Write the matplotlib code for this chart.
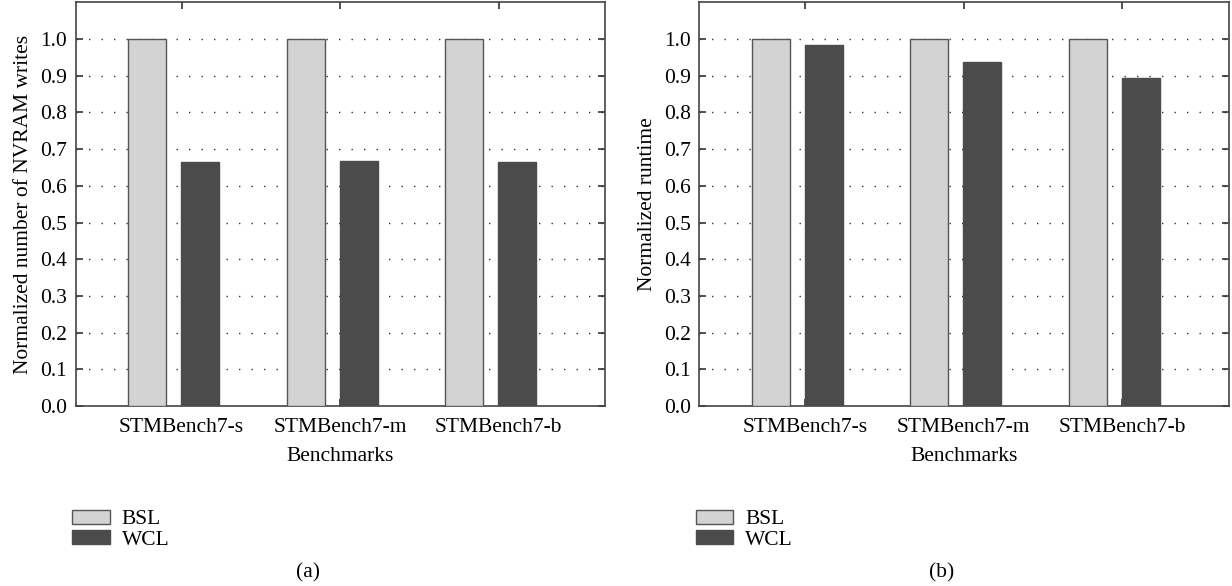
import matplotlib
matplotlib.use("Agg")
import matplotlib.pyplot as plt
import matplotlib.patches as mpatches
import numpy as np

# ── Data ──
BENCHMARKS = ["STMBench7-s", "STMBench7-m", "STMBench7-b"]
SERIES = ["BSL", "WCL"]
WRITES_BSL = [1.0, 1.0, 1.0]
WRITES_WCL = [0.666, 0.667, 0.666]
RUNTIME_BSL = [1.0, 1.0, 1.0]
RUNTIME_WCL = [0.983, 0.937, 0.893]
Y_TICKS = [0.0, 0.1, 0.2, 0.3, 0.4, 0.5, 0.6, 0.7, 0.8, 0.9, 1.0]

COLORS = {"BSL": "#d3d3d3", "WCL": "#4b4b4b"}
EDGES = {"BSL": "#555555", "WCL": "#4b4b4b"}

plt.rcParams["font.family"] = ["Liberation Serif", "DejaVu Serif"]
FS = 15.5


def draw_panel(ax, bsl, wcl, ylabel):
    x = np.arange(1, len(BENCHMARKS) + 1)
    width = 0.24
    ax.bar(x - 0.217, bsl, width, color=COLORS["BSL"],
           edgecolor=EDGES["BSL"], linewidth=1.0, zorder=3)
    ax.bar(x + 0.117, wcl, width, color=COLORS["WCL"],
           edgecolor=EDGES["WCL"], linewidth=1.0, zorder=3)

    ax.set_xlim(0.332, 3.672)
    ax.set_ylim(0, 1.1)
    ax.set_xticks(x)
    ax.set_xticklabels(BENCHMARKS, fontsize=FS)
    ax.set_yticks(Y_TICKS)
    ax.set_yticklabels([f"{v:.1f}" for v in Y_TICKS], fontsize=FS)
    ax.tick_params(direction="in", length=5, width=1.2, color="#333333",
                   top=True, right=True, pad=6)
    ax.tick_params(axis="x", pad=8.5)
    ax.set_xlabel("Benchmarks", fontsize=FS, labelpad=7.5)
    ax.set_ylabel(ylabel, fontsize=FS, labelpad=5)
    ax.grid(axis="y", linestyle=(0, (1, 8)), color="#333333",
            linewidth=1.0, zorder=0)
    for spine in ax.spines.values():
        spine.set_color("#444444")
        spine.set_linewidth(1.2)


fig = plt.figure(figsize=(12.32, 5.86), dpi=100)
ax_a = fig.add_axes([0.0614, 0.307, 0.430, 0.689])
ax_b = fig.add_axes([0.5676, 0.307, 0.430, 0.689])

draw_panel(ax_a, WRITES_BSL, WRITES_WCL, "Normalized number of NVRAM writes")
draw_panel(ax_b, RUNTIME_BSL, RUNTIME_WCL, "Normalized runtime")

handles = [mpatches.Patch(facecolor=COLORS[s], edgecolor=EDGES[s],
                          linewidth=1.0, label=s) for s in SERIES]
for x0 in (0.043, 0.549):
    fig.legend(handles=handles, loc="upper left", bbox_to_anchor=(x0, 0.163),
               frameon=False, fontsize=FS, handlelength=1.75, handleheight=0.6,
               labelspacing=0.05, handletextpad=0.55)

fig.text(0.25, 0.022, "(a)", ha="center", va="center", fontsize=FS)
fig.text(0.764, 0.022, "(b)", ha="center", va="center", fontsize=FS)

fig.savefig("out.png", dpi=100)
